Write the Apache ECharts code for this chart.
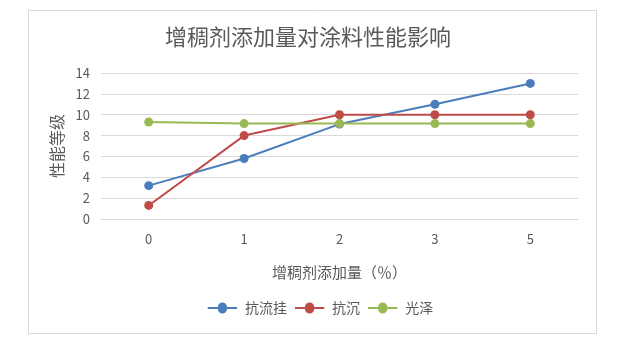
<!DOCTYPE html>
<html>
<head>
<meta charset="utf-8">
<script src="https://cdn.jsdelivr.net/npm/echarts@6/dist/echarts.min.js"></script>
<style>
html, body { margin: 0; padding: 0; background: #fff; }
#chart { width: 641px; height: 351px; }
</style>
</head>
<body>
<div id="chart"></div>
<script>
var categories = ['0', '1', '2', '3', '5'];
var seriesNames = ['抗流挂', '抗沉', '光泽'];
var liuGua = [3.2, 5.8, 9.1, 11.0, 13.0];
var kangChen = [1.3, 8.0, 10.0, 10.0, 10.0];
var guangZe = [9.3, 9.15, 9.15, 9.15, 9.15];
var colors = ['#4a7ebb', '#be4b48', '#98b954'];

var chart = echarts.init(document.getElementById('chart'));
var fontFamily = '"Noto Sans CJK SC", "Microsoft YaHei", sans-serif';

function makeSeries(name, data, color) {
    return {
        name: name,
        type: 'line',
        data: data,
        symbol: 'circle',
        symbolSize: 9,
        lineStyle: { width: 2, color: color },
        itemStyle: { color: color },
        emphasis: { disabled: true }
    };
}

var option = {
    animation: false,
    textStyle: { fontFamily: fontFamily },
    graphic: [{
        type: 'rect',
        shape: { x: 28.5, y: 10.5, width: 568, height: 323 },
        style: { fill: 'none', stroke: '#d9d9d9', lineWidth: 1 },
        silent: true
    }],
    title: {
        text: '增稠剂添加量对涂料性能影响',
        left: 303,
        textAlign: 'center',
        top: 21,
        textStyle: { fontSize: 22, fontWeight: 'normal', color: '#595959', fontFamily: fontFamily }
    },
    legend: {
        data: seriesNames,
        bottom: 31,
        left: 'center',
        icon: 'path://M0,5 L11,5 A5,5 0 1,1 21,5 L32,5 L32,7 L21,7 A5,5 0 1,1 11,7 L0,7 Z',
        itemWidth: 35,
        itemHeight: 11,
        itemGap: 8,
        textStyle: { fontSize: 14, color: '#595959', fontFamily: fontFamily }
    },
    grid: { left: 101, right: 63, top: 73, bottom: 132 },
    xAxis: {
        type: 'category',
        data: categories,
        boundaryGap: true,
        name: '增稠剂添加量（％）',
        nameLocation: 'middle',
        nameGap: 46,
        nameTextStyle: { fontSize: 15, color: '#595959' },
        axisLine: { lineStyle: { color: '#d9d9d9' } },
        axisTick: { show: false },
        axisLabel: { color: '#595959', fontSize: 13, margin: 14 }
    },
    yAxis: {
        type: 'value',
        min: 0,
        max: 14,
        interval: 2,
        name: '性能等级',
        nameLocation: 'middle',
        nameGap: 36,
        nameRotate: 90,
        nameTextStyle: { fontSize: 16, color: '#595959' },
        axisLine: { show: false },
        axisTick: { show: false },
        axisLabel: { color: '#595959', fontSize: 13, margin: 11 },
        splitLine: { lineStyle: { color: '#d9d9d9' } }
    },
    series: [
        makeSeries(seriesNames[0], liuGua, colors[0]),
        makeSeries(seriesNames[1], kangChen, colors[1]),
        makeSeries(seriesNames[2], guangZe, colors[2])
    ]
};

chart.setOption(option);
window.addEventListener('resize', function () {
    chart.resize();
});
</script>
</body>
</html>
